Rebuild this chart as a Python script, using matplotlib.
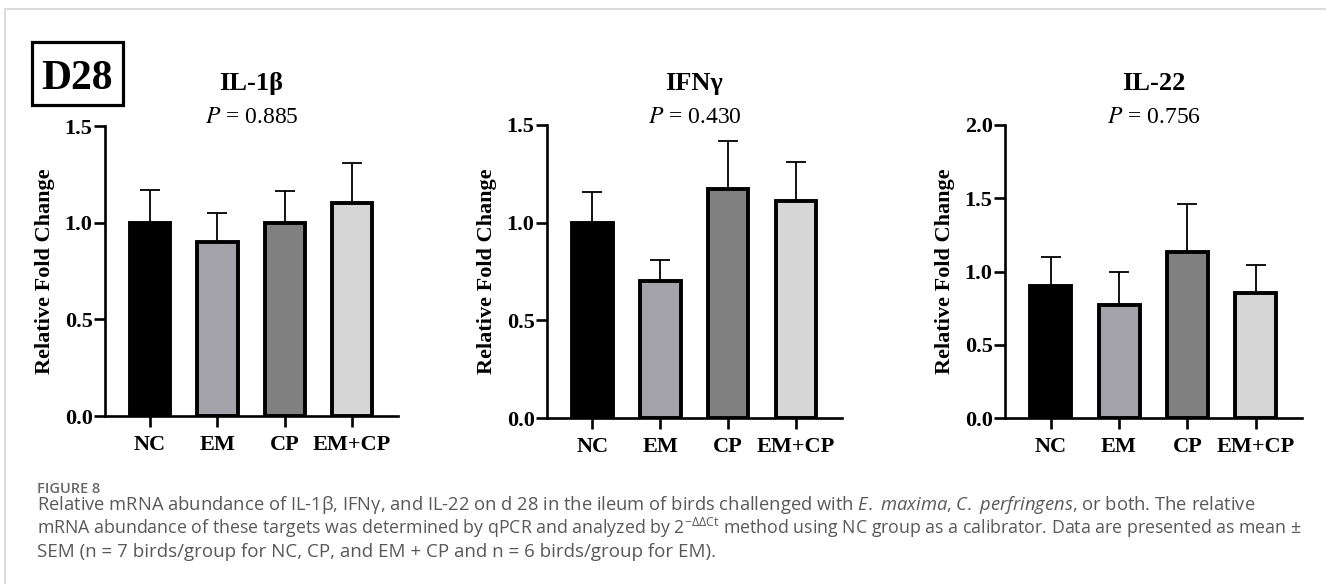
import matplotlib.pyplot as plt
from matplotlib.patches import Rectangle
from matplotlib.lines import Line2D

# groups and colours
groups = ["NC", "EM", "CP", "EM+CP"]
bar_colors = ["#000000", "#a3a3a9", "#808080", "#d6d6d6"]

# IL-1b
il1b_mean = [1.00, 0.90, 1.00, 1.10]
il1b_top = [1.17, 1.05, 1.165, 1.31]
# IFNg
ifng_mean = [1.00, 0.70, 1.17, 1.11]
ifng_top = [1.155, 0.81, 1.42, 1.31]
# IL-22
il22_mean = [0.90, 0.77, 1.13, 0.85]
il22_top = [1.10, 1.00, 1.46, 1.045]

titles = ["IL-1\u03b2", "IFN\u03b3", "IL-22"]
pvals = ["0.885", "0.430", "0.756"]
ymaxes = [1.5, 1.5, 2.0]
yticks = [[0.0, 0.5, 1.0, 1.5], [0.0, 0.5, 1.0, 1.5], [0.0, 0.5, 1.0, 1.5, 2.0]]

W, H = 1326, 584
serif = "Liberation Serif"
plt.rcParams["mathtext.rm"] = "Open Sans"
plt.rcParams["mathtext.it"] = "Open Sans:italic"

fig = plt.figure(figsize=(W / 100, H / 100), dpi=100)

# axes boxes in pixels: left, y of zero line, width, height
boxes = [(105, 416, 293, 290), (547, 418, 295, 293), (1005, 418, 297, 293)]
means = [il1b_mean, ifng_mean, il22_mean]
tops = [il1b_top, ifng_top, il22_top]

for i in range(3):
    l, b, w, h = boxes[i]
    ax = fig.add_axes([l / W, (H - b) / H, w / W, h / H])
    x = range(len(groups))
    m = means[i]
    err = [t - v for t, v in zip(tops[i], m)]
    ax.errorbar(x, m, yerr=[[0] * 4, err], fmt="none", ecolor="black",
                elinewidth=1.3, capsize=7.5, capthick=1.3, zorder=1)
    ax.bar(x, m, width=0.6, color=bar_colors, edgecolor="black",
           linewidth=2.8, zorder=2)
    ax.set_xlim(-0.67, 3.68)
    ax.set_ylim(0, ymaxes[i])
    ax.set_yticks(yticks[i])
    ax.set_yticklabels(["%.1f" % v for v in yticks[i]])
    ax.set_xticks(list(x))
    ax.set_xticklabels(groups)
    for s in ["top", "right"]:
        ax.spines[s].set_visible(False)
    for s in ["left", "bottom"]:
        ax.spines[s].set_linewidth(1.9)
    ax.tick_params(axis="both", length=8, width=1.9, direction="out")
    ax.tick_params(axis="y", pad=1)
    ax.tick_params(axis="x", pad=6)
    for lab in ax.get_xticklabels() + ax.get_yticklabels():
        lab.set_fontfamily(serif)
        lab.set_fontweight("bold")
        lab.set_fontsize(16)
    ax.set_ylabel("Relative Fold Change", fontfamily=serif, fontweight="bold",
                  fontsize=16)
    ax.yaxis.set_label_coords(-0.17, 0.5)

    cx = (l + w / 2) / W
    fig.text(cx, 1 - 90 / H, titles[i], ha="center", va="baseline",
             fontfamily=serif, fontweight="bold", fontsize=19)
    fig.text(cx, 1 - 123 / H, "$P$ = " + pvals[i], ha="center", va="baseline",
             fontfamily=serif, fontsize=17, math_fontfamily="stix")

# D28 box
fig.add_artist(Rectangle((32 / W, 1 - 105 / H), 91 / W, 63 / H,
                         transform=fig.transFigure, fill=False,
                         edgecolor="black", linewidth=2.3))
fig.text(77.5 / W, 1 - 89 / H, "D28", ha="center", va="baseline",
         fontfamily=serif, fontweight="bold", fontsize=30)

# light frame
fig.add_artist(Line2D([4.5 / W, 1], [1 - 9 / H, 1 - 9 / H],
                      transform=fig.transFigure, color="#d9d9d9", lw=1.3))
fig.add_artist(Line2D([4.5 / W, 4.5 / W], [0, 1 - 9 / H],
                      transform=fig.transFigure, color="#d9d9d9", lw=1.3))

# caption
cap = "#585858"
fig.text(37 / W, 1 - 493 / H, "FIGURE 8", fontfamily="Open Sans",
         fontweight="semibold", fontsize=10.5, color="#666666", va="baseline")
line1 = ("Relative mRNA abundance of IL-1\u03b2, IFN\u03b3, and IL-22 on d 28 in the ileum "
         "of birds challenged with $\\mathit{E.}$ $\\mathit{maxima}$, "
         "$\\mathit{C.}$ $\\mathit{perfringens}$, or both. The relative")
line2 = ("mRNA abundance of these targets was determined by qPCR and analyzed by "
         "2$^{-\\Delta\\Delta \\mathrm{Ct}}$ method using NC group as a calibrator. "
         "Data are presented as mean \u00b1")
line3 = "SEM (n = 7 birds/group for NC, CP, and EM + CP and n = 6 birds/group for EM)."
# the reference lines are set a little differently, so each gets its own size
sizes = [13.25, 12.8, 13.5]
for k, t in enumerate([line1, line2, line3]):
    fig.text(37 / W, 1 - (510 + 23.5 * k) / H, t, fontfamily="Open Sans",
             fontsize=sizes[k], color=cap, va="baseline", math_fontfamily="custom")

fig.savefig("out.png", dpi=100)
